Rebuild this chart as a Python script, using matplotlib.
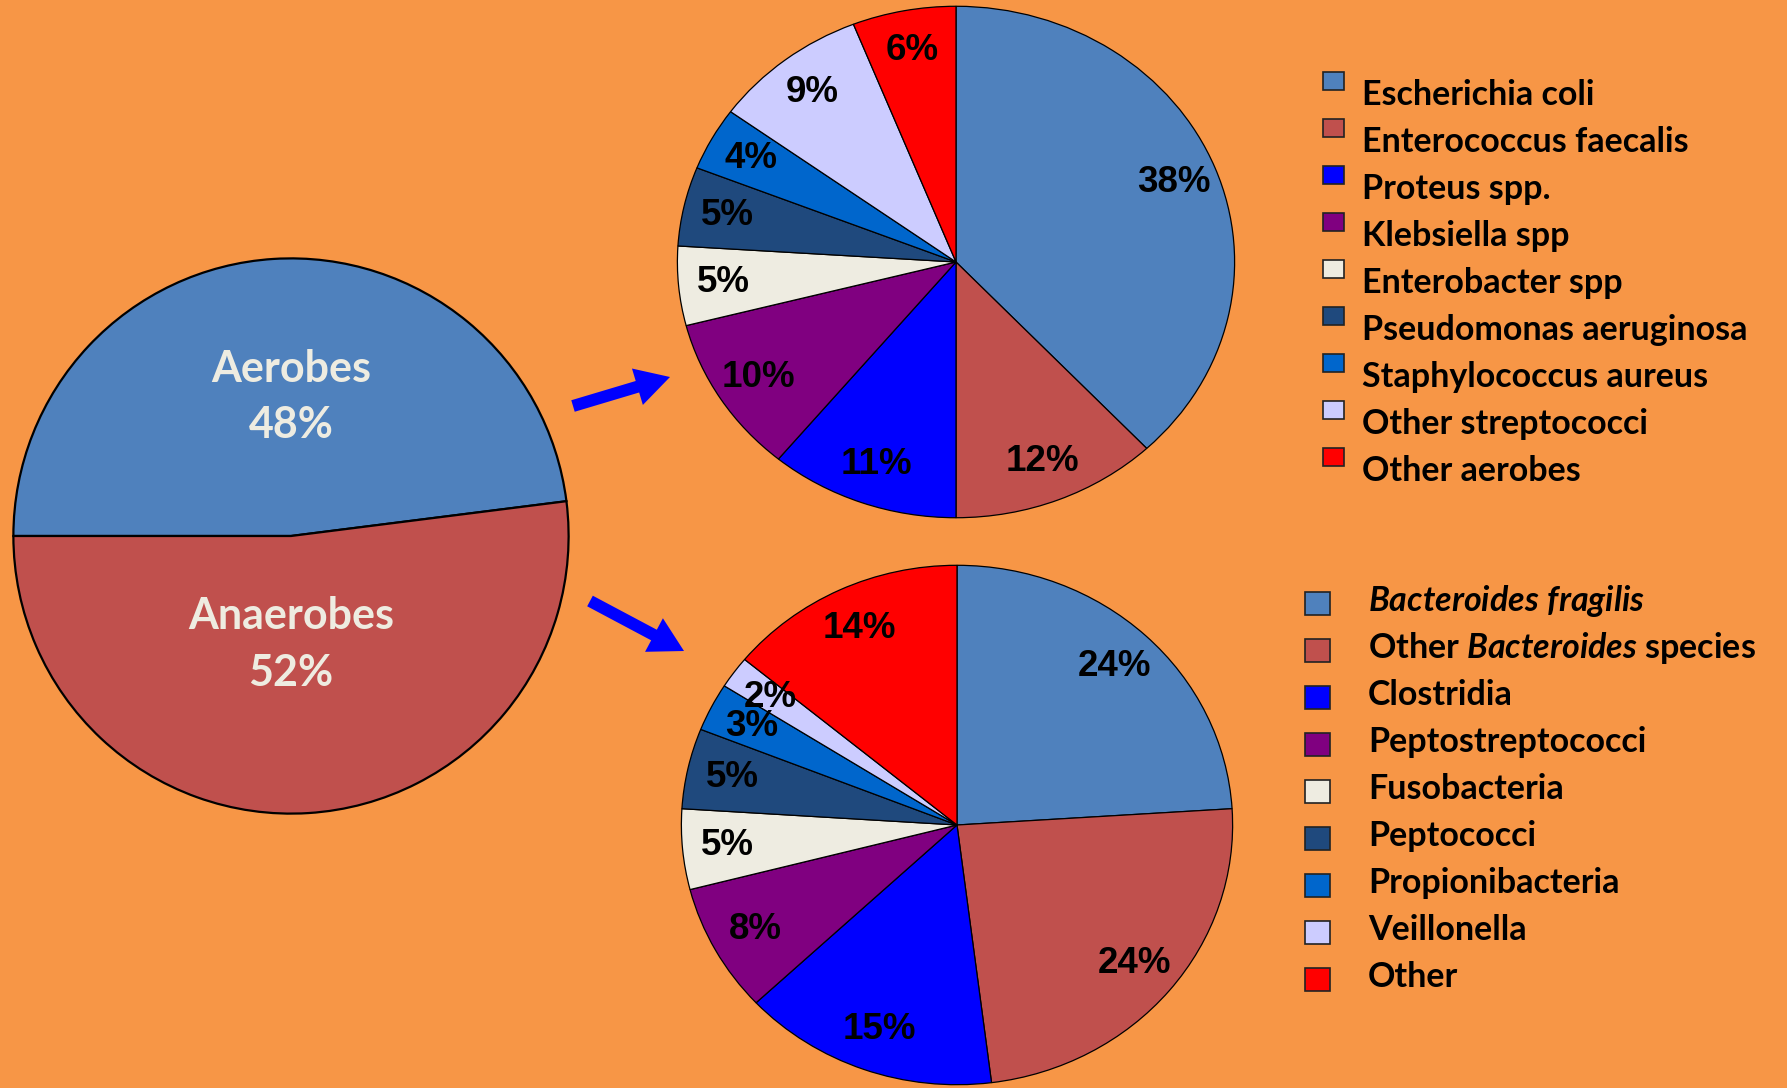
import matplotlib
matplotlib.use("Agg")
import matplotlib.pyplot as plt
from matplotlib.patches import Rectangle, FancyArrow

plt.rcParams['mathtext.fontset'] = 'custom'
plt.rcParams['mathtext.rm'] = 'Lato:bold'
plt.rcParams['mathtext.it'] = 'Lato:italic:bold'
plt.rcParams['mathtext.bf'] = 'Lato:bold'

# ---------------- data ----------------
main_groups = ["Aerobes", "Anaerobes"]
main_values = [48, 52]

aerobe_names = ["Escherichia coli", "Enterococcus faecalis", "Proteus spp.",
                "Klebsiella spp", "Enterobacter spp", "Pseudomonas aeruginosa",
                "Staphylococcus aureus", "Other streptococci", "Other aerobes"]
aerobe_values = [38, 12, 11, 10, 5, 5, 4, 9, 6]

anaerobe_names = [r"$\mathit{Bacteroides\ fragilis}$",
                  r"Other $\mathit{Bacteroides}$ species",
                  "Clostridia", "Peptostreptococci", "Fusobacteria",
                  "Peptococci", "Propionibacteria", "Veillonella", "Other"]
anaerobe_values = [24, 24, 15, 8, 5, 5, 3, 2, 14]

main_colors = ["#4F81BD", "#C0504D"]
slice_colors = ["#4F81BD", "#C0504D", "#0000FF", "#800080", "#EEECE1",
                "#1F497D", "#0066CC", "#CCCCFF", "#FF0000"]

BG = "#F79646"
W, H = 1787, 1088

fig = plt.figure(figsize=(W / 100, H / 100), dpi=100, facecolor=BG)


def add_ax(x0, y0, x1, y1):
    return fig.add_axes([x0 / W, 1 - y1 / H, (x1 - x0) / W, (y1 - y0) / H])


# ---------------- main pie ----------------
ax0 = add_ax(12, 257, 570, 815)
ax0.pie(main_values, colors=main_colors, startangle=180, counterclock=False,
        radius=1, wedgeprops=dict(edgecolor="black", linewidth=1.6))
ax0.set_aspect("auto")
ax0.set_xlim(-1.005, 1.005)
ax0.set_ylim(-1.005, 1.005)
ytext = [0.50, -0.39]
for name, v, yy in zip(main_groups, main_values, ytext):
    ax0.text(0, yy, f"{name}\n{v}%", ha="center", va="center",
             color="#EEECE1", fontsize=31, fontweight="bold",
             family="Lato", linespacing=1.5)

# ---------------- sub pies ----------------
pct_props = dict(fontsize=26.5, fontweight="bold", family="Liberation Sans",
                 color="black")

ax1 = add_ax(676, 5, 1236, 519)
ax1.pie(aerobe_values, colors=slice_colors, startangle=90, counterclock=False,
        autopct="%1.0f%%", pctdistance=0.84, textprops=pct_props,
        wedgeprops=dict(edgecolor="black", linewidth=0.9))
ax1.set_aspect("auto")
ax1.set_xlim(-1.005, 1.005)
ax1.set_ylim(-1.005, 1.005)

ax2 = add_ax(680, 564, 1234, 1086)
ax2.pie(anaerobe_values, colors=slice_colors, startangle=90, counterclock=False,
        autopct="%1.0f%%", pctdistance=0.835, textprops=pct_props,
        wedgeprops=dict(edgecolor="black", linewidth=0.9))
ax2.set_aspect("auto")
ax2.set_xlim(-1.005, 1.005)
ax2.set_ylim(-1.005, 1.005)

# ---------------- overlay (arrows + legends) ----------------
ov = fig.add_axes([0, 0, 1, 1], zorder=5)
ov.set_xlim(0, W)
ov.set_ylim(H, 0)
ov.axis("off")
ov.patch.set_alpha(0)

for (x0, y0), (x1, y1) in [((573, 406), (670, 377)), ((590, 601), (684, 651))]:
    ov.add_patch(FancyArrow(x0, y0, x1 - x0, y1 - y0, width=12,
                            head_width=38, head_length=34,
                            length_includes_head=True, color="#0000FF",
                            linewidth=0))

step = 47
for i, (name, c) in enumerate(zip(aerobe_names, slice_colors)):
    ov.add_patch(Rectangle((1323, 72 + step * i), 21, 18, facecolor=c,
                           edgecolor="#222222", linewidth=1.2))
    ov.text(1362, 105 + step * i, name, ha="left", va="baseline",
            fontsize=24.5, fontweight="bold", family="Lato", color="black")

for i, (name, c) in enumerate(zip(anaerobe_names, slice_colors)):
    ov.add_patch(Rectangle((1305, 592 + step * i), 25, 23, facecolor=c,
                           edgecolor="#222222", linewidth=1.2))
    ov.text(1368, 611 + step * i, name, ha="left", va="baseline",
            fontsize=24.5, fontweight="bold", family="Lato", color="black")

fig.savefig("out.png", dpi=100, facecolor=BG)
